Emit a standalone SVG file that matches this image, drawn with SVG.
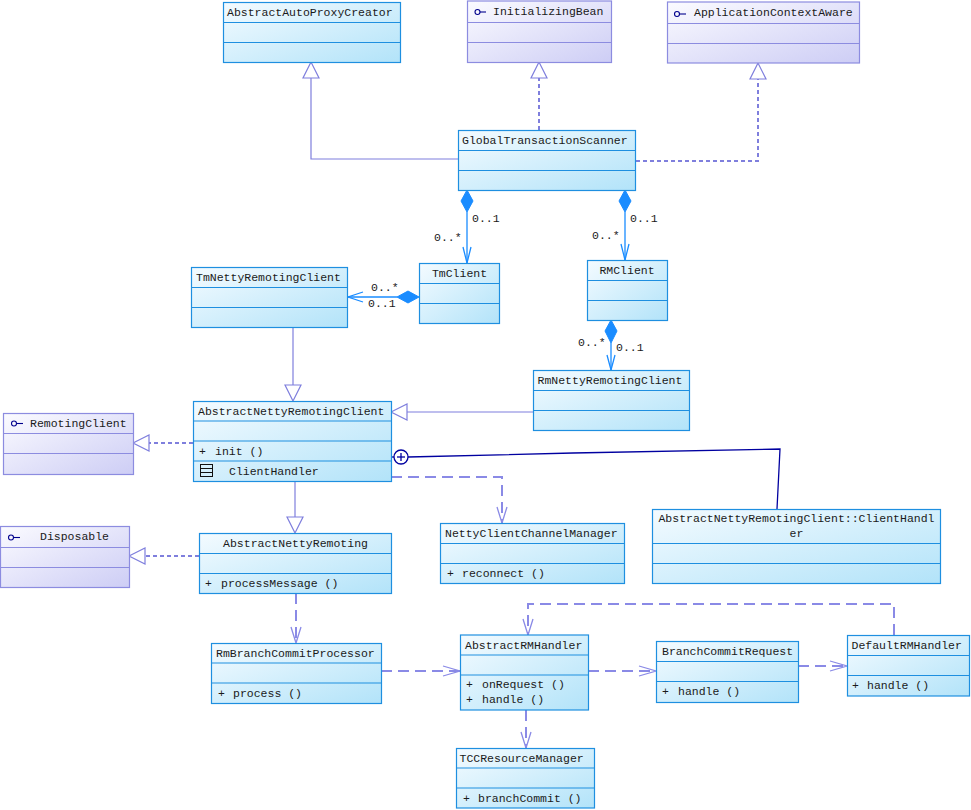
<svg xmlns="http://www.w3.org/2000/svg" width="971" height="810" viewBox="0 0 971 810">
<defs>
<linearGradient id="cg" x1="0" y1="0" x2="1" y2="1">
<stop offset="0" stop-color="#f4fbff"/>
<stop offset="1" stop-color="#b2e3f9"/>
</linearGradient>
<linearGradient id="ig" x1="0" y1="0" x2="1" y2="1">
<stop offset="0" stop-color="#fbfbff"/>
<stop offset="1" stop-color="#cdcdf5"/>
</linearGradient>
</defs>
<style>
text{font-family:"Liberation Mono","DejaVu Sans Mono",monospace;font-size:11.5px;fill:#1a1a1a}
.c{fill:url(#cg);stroke:#1e8fe0;stroke-width:1.2}
.cl{stroke:#1e8fe0;stroke-width:1.2}
.i{fill:url(#ig);stroke:#8c8ce0;stroke-width:1.2}
.il{stroke:#8c8ce0;stroke-width:1.2}
.ico{fill:none;stroke:#00008c;stroke-width:1.1}
.gen{fill:none;stroke:#7f7fdd;stroke-width:1.2}
.tri{fill:#fff;stroke:#7f7fdd;stroke-width:1.2}
.real{fill:none;stroke:#7f7fdd;stroke-width:2;stroke-dasharray:4 3}
.dep{fill:none;stroke:#8a8ae6;stroke-width:2;stroke-dasharray:11 6}
.deph{fill:none;stroke:#8a8ae6;stroke-width:1.3}
.comp{fill:none;stroke:#1a8cff;stroke-width:1.3}
.dia{fill:#1a8cff;stroke:#1a8cff;stroke-width:1}
.nest{fill:none;stroke:#0000a0;stroke-width:1.3}
.ctr{text-anchor:middle}
</style>

<g id="connectors">
<!-- GTS -> AbstractAutoProxyCreator (generalization) -->
<polyline class="gen" points="458,159 311,159 311,78"/>
<polygon class="tri" points="311,62 303,78 319,78"/>
<!-- GTS -> InitializingBean (realization) -->
<line class="real" x1="539" y1="130" x2="539" y2="78"/>
<polygon class="tri" points="539,62 531,78 547,78"/>
<!-- GTS -> ApplicationContextAware (realization) -->
<polyline class="real" points="636,161 758,161 758,79"/>
<polygon class="tri" points="758,63 750,79 766,79"/>
<!-- GTS -> TmClient composition -->
<polygon class="dia" points="467,190 473,201 467,212 461,201"/>
<line class="comp" x1="467" y1="212" x2="467" y2="263"/>
<polyline class="comp" points="463,247 467,263 471,247"/>
<text x="472" y="222">0..1</text>
<text x="434" y="241">0..*</text>
<!-- GTS -> RMClient composition -->
<polygon class="dia" points="625,190 631,201 625,212 619,201"/>
<line class="comp" x1="625" y1="212" x2="625" y2="260"/>
<polyline class="comp" points="621,244 625,260 629,244"/>
<text x="630" y="222">0..1</text>
<text x="592" y="239">0..*</text>
<!-- TmClient -> TmNettyRemotingClient composition -->
<polygon class="dia" points="419,297 408,291 397,297 408,303"/>
<line class="comp" x1="397" y1="297" x2="348" y2="297"/>
<polyline class="comp" points="363,292 348,297 363,302"/>
<text x="371" y="291">0..*</text>
<text x="368" y="307">0..1</text>
<!-- RMClient -> RmNettyRemotingClient composition -->
<polygon class="dia" points="611,320 617,331 611,343 605,331"/>
<line class="comp" x1="611" y1="343" x2="611" y2="370"/>
<polyline class="comp" points="607,355 611,370 615,355"/>
<text x="578" y="346">0..*</text>
<text x="616" y="351">0..1</text>
<!-- TmNetty -> ANRC generalization -->
<line class="gen" x1="293" y1="327" x2="293" y2="385"/>
<polygon class="tri" points="293,401 285,385 301,385"/>
<!-- RmNetty -> ANRC generalization -->
<line class="gen" x1="533" y1="412" x2="407" y2="412"/>
<polygon class="tri" points="391,412 407,404 407,420"/>
<!-- ANRC -> RemotingClient realization -->
<line class="real" x1="193" y1="443" x2="149" y2="443"/>
<polygon class="tri" points="133,443 149,435 149,451"/>
<!-- ANRC -> ANR generalization -->
<line class="gen" x1="295" y1="481" x2="295" y2="517"/>
<polygon class="tri" points="295,533 287,517 303,517"/>
<!-- ANR -> Disposable realization -->
<line class="real" x1="199" y1="556" x2="145" y2="556"/>
<polygon class="tri" points="129,556 145,548 145,564"/>
<!-- nesting ANRC -> ClientHandler -->
<line class="nest" x1="391" y1="457" x2="394" y2="457"/>
<circle class="nest" cx="401" cy="457" r="7" fill="#fff"/>
<line class="nest" x1="397" y1="457" x2="405" y2="457"/>
<line class="nest" x1="401" y1="453" x2="401" y2="461"/>
<polyline class="nest" points="408,457 573,453 780,449 777,509"/>
<!-- ANRC -> NettyClientChannelManager dependency -->
<polyline class="dep" points="391,477 502,477 502,523"/>
<polyline class="deph" points="497,507 502,523 507,507"/>
<!-- ANR -> RmBranchCommitProcessor dependency -->
<line class="dep" x1="296" y1="593" x2="296" y2="643"/>
<polyline class="deph" points="291,627 296,643 301,627"/>
<!-- RBCP -> AbstractRMHandler dependency -->
<line class="dep" x1="381" y1="671" x2="460" y2="671"/>
<polyline class="deph" points="443,666 460,671 443,676"/>
<!-- ARM -> BranchCommitRequest dependency -->
<line class="dep" x1="588" y1="671" x2="656" y2="671"/>
<polyline class="deph" points="639,666 656,671 639,676"/>
<!-- BCR -> DefaultRMHandler dependency -->
<line class="dep" x1="798" y1="666" x2="847" y2="666"/>
<polyline class="deph" points="830,661 847,666 830,671"/>
<!-- DefaultRMHandler -> ARM dependency -->
<polyline class="dep" points="894,635 894,604 528,604 528,635"/>
<polyline class="deph" points="523,619 528,635 533,619"/>
<!-- ARM -> TCCResourceManager dependency -->
<line class="dep" x1="526" y1="710" x2="526" y2="748"/>
<polyline class="deph" points="521,732 526,748 531,732"/>
</g>

<g id="AbstractAutoProxyCreator">
<rect class="c" x="223.5" y="2.5" width="177" height="60"/>
<line class="cl" x1="223.5" y1="22.5" x2="400.5" y2="22.5"/>
<line class="cl" x1="223.5" y1="42.5" x2="400.5" y2="42.5"/>
<text x="227" y="16">AbstractAutoProxyCreator</text>
</g>

<g id="InitializingBean">
<rect class="i" x="467.5" y="1" width="144" height="61.5"/>
<line class="il" x1="467.5" y1="22.5" x2="611.5" y2="22.5"/>
<line class="il" x1="467.5" y1="42.5" x2="611.5" y2="42.5"/>
<circle class="ico" cx="477.5" cy="12" r="2.5"/>
<line class="ico" x1="480" y1="12" x2="486" y2="12"/>
<text x="493" y="15">InitializingBean</text>
</g>

<g id="ApplicationContextAware">
<rect class="i" x="667.5" y="2" width="192" height="61"/>
<line class="il" x1="667.5" y1="23.5" x2="859.5" y2="23.5"/>
<line class="il" x1="667.5" y1="43.5" x2="859.5" y2="43.5"/>
<circle class="ico" cx="677" cy="14" r="2.5"/>
<line class="ico" x1="679.5" y1="14" x2="686" y2="14"/>
<text x="694" y="16">ApplicationContextAware</text>
</g>

<g id="GlobalTransactionScanner">
<rect class="c" x="458.5" y="130.5" width="177" height="60"/>
<line class="cl" x1="458.5" y1="150.5" x2="635.5" y2="150.5"/>
<line class="cl" x1="458.5" y1="170.5" x2="635.5" y2="170.5"/>
<text x="462" y="144">GlobalTransactionScanner</text>
</g>

<g id="TmClient">
<rect class="c" x="419.5" y="263.5" width="80" height="60"/>
<line class="cl" x1="419.5" y1="283.5" x2="499.5" y2="283.5"/>
<line class="cl" x1="419.5" y1="303.5" x2="499.5" y2="303.5"/>
<text class="ctr" x="459.5" y="277">TmClient</text>
</g>

<g id="RMClient">
<rect class="c" x="587.5" y="260.5" width="80" height="60"/>
<line class="cl" x1="587.5" y1="280.5" x2="667.5" y2="280.5"/>
<line class="cl" x1="587.5" y1="300.5" x2="667.5" y2="300.5"/>
<text class="ctr" x="627" y="274">RMClient</text>
</g>

<g id="TmNettyRemotingClient">
<rect class="c" x="191.5" y="267.5" width="156" height="60"/>
<line class="cl" x1="191.5" y1="287.5" x2="347.5" y2="287.5"/>
<line class="cl" x1="191.5" y1="307.5" x2="347.5" y2="307.5"/>
<text x="196" y="281">TmNettyRemotingClient</text>
</g>

<g id="RmNettyRemotingClient">
<rect class="c" x="533.5" y="370.5" width="156" height="60"/>
<line class="cl" x1="533.5" y1="390.5" x2="689.5" y2="390.5"/>
<line class="cl" x1="533.5" y1="410.5" x2="689.5" y2="410.5"/>
<text x="537.5" y="384">RmNettyRemotingClient</text>
</g>

<g id="AbstractNettyRemotingClient">
<rect class="c" x="193.5" y="401.5" width="198" height="80"/>
<line class="cl" x1="193.5" y1="421" x2="391.5" y2="421"/>
<line class="cl" x1="193.5" y1="441" x2="391.5" y2="441"/>
<line class="cl" x1="193.5" y1="461" x2="391.5" y2="461"/>
<text x="198" y="415">AbstractNettyRemotingClient</text>
<text x="199" y="455">+</text>
<text x="215" y="455">init ()</text>
<rect x="200.5" y="464.5" width="12" height="12" fill="none" stroke="#111" stroke-width="1"/>
<line x1="200.5" y1="468.5" x2="212.5" y2="468.5" stroke="#111" stroke-width="1"/>
<line x1="200.5" y1="472.5" x2="212.5" y2="472.5" stroke="#111" stroke-width="1"/>
<text x="229" y="475">ClientHandler</text>
</g>

<g id="RemotingClient">
<rect class="i" x="3.5" y="413.5" width="130" height="61"/>
<line class="il" x1="3.5" y1="433.5" x2="133.5" y2="433.5"/>
<line class="il" x1="3.5" y1="453.5" x2="133.5" y2="453.5"/>
<circle class="ico" cx="14" cy="423.5" r="2.5"/>
<line class="ico" x1="16.5" y1="423.5" x2="23" y2="423.5"/>
<text x="30" y="427">RemotingClient</text>
</g>

<g id="Disposable">
<rect class="i" x="0.5" y="526.5" width="129" height="61"/>
<line class="il" x1="0.5" y1="547.5" x2="129.5" y2="547.5"/>
<line class="il" x1="0.5" y1="567.5" x2="129.5" y2="567.5"/>
<circle class="ico" cx="11" cy="537.5" r="2.5"/>
<line class="ico" x1="13.5" y1="537.5" x2="20" y2="537.5"/>
<text x="40" y="540">Disposable</text>
</g>

<g id="AbstractNettyRemoting">
<rect class="c" x="199.5" y="533.5" width="192" height="60"/>
<line class="cl" x1="199.5" y1="553.5" x2="391.5" y2="553.5"/>
<line class="cl" x1="199.5" y1="573.5" x2="391.5" y2="573.5"/>
<text class="ctr" x="295.5" y="547">AbstractNettyRemoting</text>
<text x="205" y="587">+</text>
<text x="221" y="587">processMessage ()</text>
</g>

<g id="NettyClientChannelManager">
<rect class="c" x="440.5" y="523.5" width="184" height="60"/>
<line class="cl" x1="440.5" y1="543.5" x2="624.5" y2="543.5"/>
<line class="cl" x1="440.5" y1="563.5" x2="624.5" y2="563.5"/>
<text x="445" y="537">NettyClientChannelManager</text>
<text x="447" y="577">+</text>
<text x="462" y="577">reconnect ()</text>
</g>

<g id="ClientHandlerClass">
<rect class="c" x="652.5" y="509.5" width="288" height="74"/>
<line class="cl" x1="652.5" y1="543.5" x2="940.5" y2="543.5"/>
<line class="cl" x1="652.5" y1="563.5" x2="940.5" y2="563.5"/>
<text class="ctr" x="796.5" y="522">AbstractNettyRemotingClient::ClientHandl</text>
<text class="ctr" x="796.5" y="537">er</text>
</g>

<g id="RmBranchCommitProcessor">
<rect class="c" x="211.5" y="643.5" width="170" height="60"/>
<line class="cl" x1="211.5" y1="663" x2="381.5" y2="663"/>
<line class="cl" x1="211.5" y1="683" x2="381.5" y2="683"/>
<text x="216" y="657">RmBranchCommitProcessor</text>
<text x="218" y="697">+</text>
<text x="233" y="697">process ()</text>
</g>

<g id="AbstractRMHandler">
<rect class="c" x="460.5" y="635" width="128" height="75"/>
<line class="cl" x1="460.5" y1="655" x2="588.5" y2="655"/>
<line class="cl" x1="460.5" y1="675" x2="588.5" y2="675"/>
<text x="465" y="649">AbstractRMHandler</text>
<text x="466" y="688">+</text>
<text x="482" y="688">onRequest ()</text>
<text x="466" y="703">+</text>
<text x="482" y="703">handle ()</text>
</g>

<g id="BranchCommitRequest">
<rect class="c" x="656.5" y="641.5" width="142" height="61"/>
<line class="cl" x1="656.5" y1="661.5" x2="798.5" y2="661.5"/>
<line class="cl" x1="656.5" y1="681.5" x2="798.5" y2="681.5"/>
<text x="662" y="655">BranchCommitRequest</text>
<text x="662" y="695">+</text>
<text x="678" y="695">handle ()</text>
</g>

<g id="DefaultRMHandler">
<rect class="c" x="847.5" y="635.5" width="122" height="60.5"/>
<line class="cl" x1="847.5" y1="655.5" x2="969.5" y2="655.5"/>
<line class="cl" x1="847.5" y1="675.5" x2="969.5" y2="675.5"/>
<text x="851.5" y="649">DefaultRMHandler</text>
<text x="852" y="689">+</text>
<text x="867" y="689">handle ()</text>
</g>

<g id="TCCResourceManager">
<rect class="c" x="456.5" y="748.5" width="138" height="59.5"/>
<line class="cl" x1="456.5" y1="768" x2="594.5" y2="768"/>
<line class="cl" x1="456.5" y1="788" x2="594.5" y2="788"/>
<text x="459.5" y="762">TCCResourceManager</text>
<text x="463" y="802">+</text>
<text x="478" y="802">branchCommit ()</text>
</g>
</svg>
